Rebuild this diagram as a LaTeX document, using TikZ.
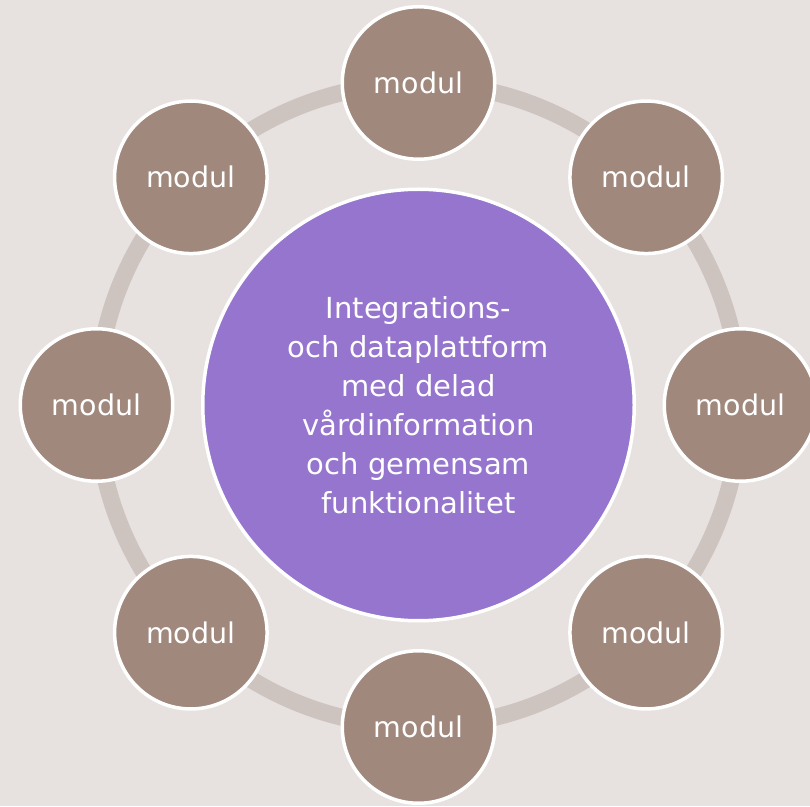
\documentclass[tikz,border=0pt]{standalone}
\usepackage{fontspec}
\setmainfont{DejaVu Sans}
\usepackage{xcolor}
\usetikzlibrary{positioning, calc}

\definecolor{bakgrund}{HTML}{E7E2DF}
\definecolor{ring}{HTML}{CDC4C0}
\definecolor{modulbrun}{HTML}{A0887D}
\definecolor{lila}{HTML}{9575CD}

\begin{document}
\begin{tikzpicture}[x=1pt, y=1pt,
  modul/.style={circle, fill=modulbrun, draw=white, line width=3.5pt,
    minimum size=152.5pt, inner sep=0pt, text=white,
    font=\fontsize{28.5}{34}\selectfont},
  plattform/.style={circle, fill=lila, draw=white, line width=3.5pt,
    minimum size=431.5pt, inner sep=0pt, text=white, align=center,
    font=\fontsize{29}{39}\selectfont}]

  % Background
  \fill[bakgrund] (0,0) rectangle (810,806);
  \useasboundingbox (0,0) rectangle (810,806);

  % Ring behind the modules
  \coordinate (mitt) at (418.5,401);
  \draw[ring, line width=17pt] (mitt) circle (321.5pt);

  % Platform in the middle
  \node[plattform] (plattform) at (mitt) {Integrations-\\och dataplattform\\med delad\\vårdinformation\\och gemensam\\funktionalitet};

  % Modules around the ring
  \foreach \v [count=\i] in {90,45,0,-45,-90,-135,180,135}
    \node[modul] (modul\i) at ($(mitt)+(\v:322pt)$) {modul};

\end{tikzpicture}
\end{document}
